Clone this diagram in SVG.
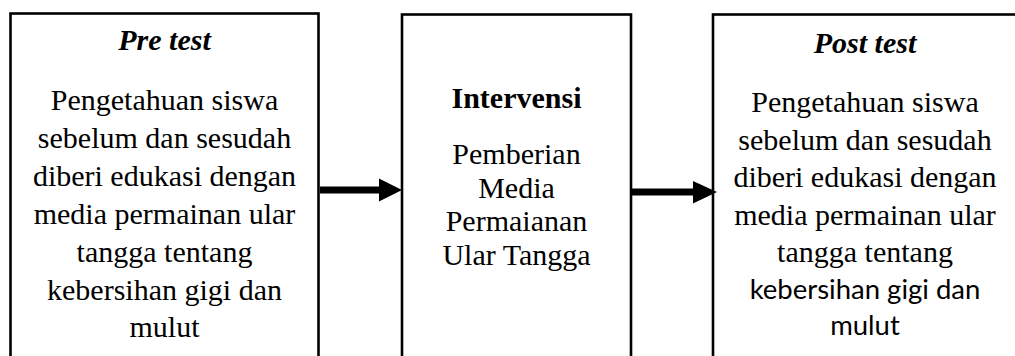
<svg xmlns="http://www.w3.org/2000/svg" width="1015" height="356" viewBox="0 0 1015 356">
<defs>
<style>
.box{fill:#fff;stroke:#000;stroke-width:2.6}
.t{font-family:"Liberation Serif","Times New Roman",serif;font-size:30px;fill:#000;text-anchor:middle}
.bi{font-weight:bold;font-style:italic}
.b{font-weight:bold}
.s{font-family:Lato,"Liberation Sans",sans-serif;font-size:27.5px;fill:#000;text-anchor:middle}
.arrow{fill:#000}
</style>
</defs>
<rect width="1015" height="356" fill="#fff"/>
<g id="pretest">
<rect class="box" x="10.5" y="13.5" width="308" height="400"/>
<text class="t bi" x="164.5" y="50">Pre test</text>
<text class="t" x="164.5" y="110">Pengetahuan siswa</text>
<text class="t" x="164.5" y="148">sebelum dan sesudah</text>
<text class="t" x="164.5" y="186">diberi edukasi dengan</text>
<text class="t" x="164.5" y="224">media permainan ular</text>
<text class="t" x="164.5" y="262">tangga tentang</text>
<text class="t" x="164.5" y="299.5">kebersihan gigi dan</text>
<text class="t" x="164.5" y="337">mulut</text>
</g>
<g id="intervensi">
<rect class="box" x="402" y="14.5" width="229" height="400"/>
<text class="t b" x="516.5" y="108">Intervensi</text>
<text class="t" x="516.5" y="163.5">Pemberian</text>
<text class="t" x="516.5" y="197.5">Media</text>
<text class="t" x="516.5" y="231">Permaianan</text>
<text class="t" x="516.5" y="265">Ular Tangga</text>
</g>
<g id="posttest">
<rect class="box" x="713" y="14.5" width="400" height="400"/>
<text class="t bi" x="865" y="53">Post test</text>
<text class="t" x="865" y="112">Pengetahuan siswa</text>
<text class="t" x="865" y="149.5">sebelum dan sesudah</text>
<text class="t" x="865" y="187">diberi edukasi dengan</text>
<text class="t" x="865" y="224.5">media permainan ular</text>
<text class="t" x="865" y="262">tangga tentang</text>
<text class="s" x="865" y="299">kebersihan gigi dan</text>
<text class="s" x="865" y="335">mulut</text>
</g>
<g id="connectors">
<polygon class="arrow" points="320,186.5 379,186.5 379,178.5 402,190 379,201.5 379,193.5 320,193.5"/>
<polygon class="arrow" points="632,188.5 693,188.5 693,181 717,192 693,203.5 693,195.5 632,195.5"/>
</g>
</svg>
